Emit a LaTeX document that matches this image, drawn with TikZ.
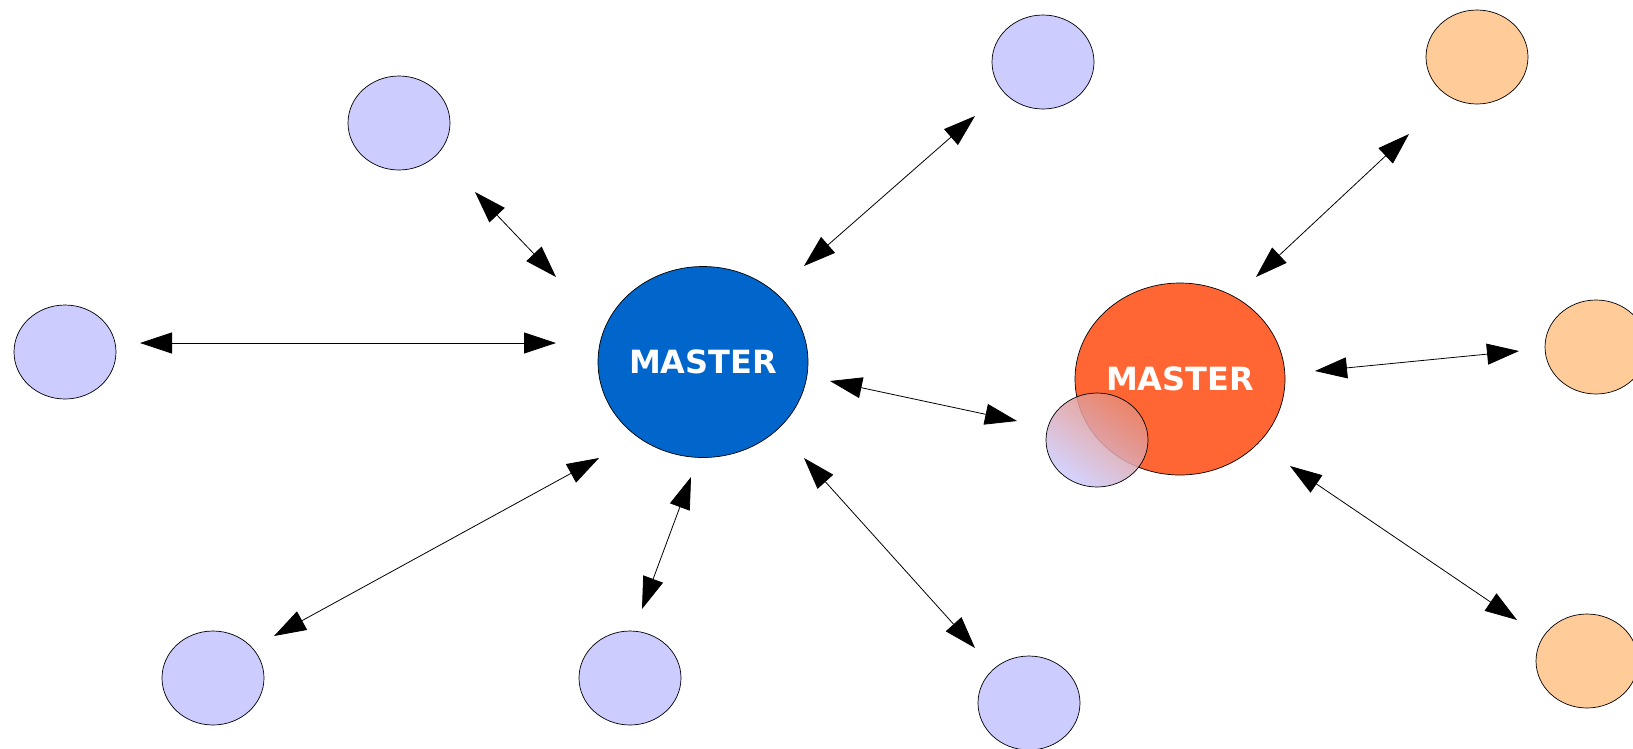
\documentclass[tikz,border=0pt]{standalone}
\usepackage{fontspec}
\newfontfamily\labelfont{DejaVu Sans}
\usetikzlibrary{shapes.geometric,arrows.meta,calc}
\definecolor{lav}{HTML}{CCCCFF}
\definecolor{mblue}{HTML}{0066CC}
\definecolor{morange}{HTML}{FF6633}
\definecolor{peach}{HTML}{FFCC99}
\definecolor{salmon}{HTML}{E98A72}
\tikzset{
  sat/.style={ellipse, draw=black, line width=0.7pt, minimum width=102pt, minimum height=94pt, inner sep=0pt},
  slave/.style={sat, fill=lav},
  pslave/.style={sat, fill=peach},
  master/.style={ellipse, draw=black, line width=0.7pt, minimum width=210pt, minimum height=191pt, inner sep=0pt,
    text=white, font=\labelfont\bfseries\fontsize{32}{38}\selectfont},
  arr/.style={line width=0.8pt, {Triangle[length=32pt,width=21pt]}-{Triangle[length=32pt,width=21pt]}}
}
\begin{document}
\begin{tikzpicture}[x=1pt,y=-1pt]
\useasboundingbox (0,0) rectangle (1633,748);
\clip (0,0) rectangle (1633,748);
% masters
\node[master, fill=mblue] (blue) at (703,362) {MASTER};
\node[master, fill=morange, minimum height=192pt] (orange) at (1180,379) {MASTER};
% overlapping transition node
\node[sat, draw=none, minimum width=102pt, minimum height=94pt] (trans) at (1097,440) {};
\shade[top color=salmon, bottom color=lav, shading angle=-35, fill opacity=0.85]
  (trans.center) ellipse [x radius=51, y radius=47];
\draw[line width=0.7pt] (trans.center) ellipse [x radius=51, y radius=47];
% lavender nodes
\node[slave] (l1) at (399,123) {};
\node[slave] (l2) at (1043,62) {};
\node[slave] (l3) at (65,352) {};
\node[slave] (l4) at (213,678) {};
\node[slave] (l5) at (630,678) {};
\node[slave] (l6) at (1029,703) {};
% peach nodes
\node[pslave] (p1) at (1477,57) {};
\node[pslave] (p2) at (1596,347) {};
\node[pslave] (p3) at (1587,661) {};
% connectors
\draw[arr] ($(l1)+(76,69)$) -- ($(blue)+(-147,-85)$);
\draw[arr] ($(l3)+(75,-9)$) -- ($(blue)+(-147,-19)$);
\draw[arr] ($(l2)+(-68,54)$) -- ($(blue)+(101,-96)$);
\draw[arr] ($(blue)+(-104,96)$) -- ($(l4)+(61,-42)$);
\draw[arr] ($(blue)+(-12,115)$) -- ($(l5)+(12,-69)$);
\draw[arr] ($(blue)+(101,96)$) -- ($(l6)+(-54,-55)$);
\draw[arr] ($(blue)+(127,19)$) -- ($(orange)+(-163,42)$);
\draw[arr] ($(p1)+(-68,77)$) -- ($(orange)+(76,-102)$);
\draw[arr] ($(orange)+(135,-8)$) -- ($(p2)+(-77,4)$);
\draw[arr] ($(orange)+(110,87)$) -- ($(p3)+(-70,-41)$);
\end{tikzpicture}
\end{document}
